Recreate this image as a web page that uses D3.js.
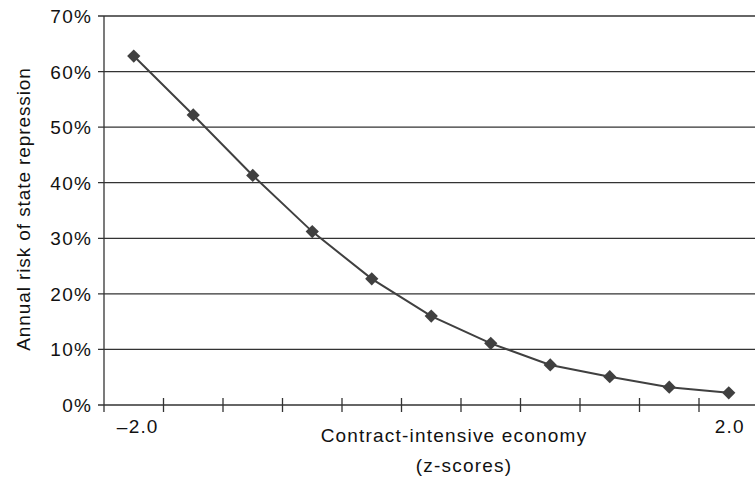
<!DOCTYPE html>
<html>
<head>
<meta charset="utf-8">
<script src="https://cdn.jsdelivr.net/npm/d3@7"></script>
<style>
  body { margin: 0; background: #fff; }
  text { font-family: "Liberation Sans", Arial, sans-serif; fill: #111; font-size: 19px; letter-spacing: 1.2px; }
</style>
</head>
<body>
<div id="chart"></div>
<script>
const w = 755;
const h = 478;

// z-score categories, one point each
const zScores = ["-2.0", "-1.6", "-1.2", "-0.8", "-0.4", "0.0", "0.4", "0.8", "1.2", "1.6", "2.0"];
// annual risk of state repression (share)
const risk = [0.628, 0.522, 0.413, 0.312, 0.227, 0.160, 0.111, 0.072, 0.051, 0.032, 0.022];
// only the end categories carry a label
const xTickLabels = ["\u20132.0", "", "", "", "", "", "", "", "", "", "2.0"];
const yTicks = [0, 0.1, 0.2, 0.3, 0.4, 0.5, 0.6, 0.7];

const plotLeft = 104, plotTop = 16, plotBottom = 405;
const bandW = 59.5;

var svg = d3.select("#chart")
    .append("svg")
    .attr("width", w)
    .attr("height", h);

var x = d3.scaleBand()
    .domain(zScores)
    .range([plotLeft, plotLeft + bandW * zScores.length])
    .padding(0);

var y = d3.scaleLinear()
    .domain([0, 0.7])
    .range([plotBottom, plotTop]);

// horizontal gridlines
svg.selectAll("line.grid")
    .data(yTicks)
    .enter()
    .append("line")
    .attr("class", "grid")
    .attr("x1", plotLeft - 6)
    .attr("x2", w)
    .attr("y1", d => y(d))
    .attr("y2", d => y(d))
    .attr("stroke", "#333")
    .attr("stroke-width", 1.3);

// y tick labels
svg.selectAll("text.ylab")
    .data(yTicks)
    .enter()
    .append("text")
    .attr("class", "ylab")
    .attr("x", plotLeft - 12)
    .attr("y", d => y(d) + 7)
    .attr("text-anchor", "end")
    .text(d => d3.format(".0%")(d));

// y axis line
svg.append("line")
    .attr("x1", plotLeft).attr("x2", plotLeft)
    .attr("y1", plotTop).attr("y2", plotBottom)
    .attr("stroke", "#333")
    .attr("stroke-width", 1.3);

// x ticks at band boundaries (crossing the axis)
var edges = zScores.map(d => x(d)).slice(1);
edges.push(x(zScores[zScores.length - 1]) + x.bandwidth());
svg.selectAll("line.xtick")
    .data(edges)
    .enter()
    .append("line")
    .attr("class", "xtick")
    .attr("x1", d => d).attr("x2", d => d)
    .attr("y1", plotBottom - 7).attr("y2", plotBottom + 7)
    .attr("stroke", "#333")
    .attr("stroke-width", 1.3);

svg.append("line")
    .attr("x1", plotLeft).attr("x2", plotLeft)
    .attr("y1", plotBottom).attr("y2", plotBottom + 7)
    .attr("stroke", "#333")
    .attr("stroke-width", 1.3);

// x tick labels
svg.selectAll("text.xlab")
    .data(zScores)
    .enter()
    .append("text")
    .attr("class", "xlab")
    .attr("x", (d, i) => x(d) + x.bandwidth() / 2 + (i === 0 ? 4 : 1))
    .attr("y", 433)
    .attr("text-anchor", "middle")
    .text((d, i) => xTickLabels[i]);

// line
var line = d3.line()
    .x((d, i) => x(zScores[i]) + x.bandwidth() / 2)
    .y(d => y(d));

svg.append("path")
    .datum(risk)
    .attr("d", line)
    .attr("fill", "none")
    .attr("stroke", "#404040")
    .attr("stroke-width", 2);

// diamond markers
svg.selectAll("path.marker")
    .data(risk)
    .enter()
    .append("path")
    .attr("class", "marker")
    .attr("d", d3.symbol().type(d3.symbolSquare).size(88))
    .attr("transform", (d, i) => "translate(" + (x(zScores[i]) + x.bandwidth() / 2) + "," + y(d) + ") rotate(45)")
    .attr("fill", "#404040");

// axis titles
svg.append("text")
    .attr("x", 454)
    .attr("y", 442)
    .attr("text-anchor", "middle")
    .text("Contract-intensive economy");

svg.append("text")
    .attr("x", 464)
    .attr("y", 472)
    .attr("text-anchor", "middle")
    .text("(z-scores)");

svg.append("text")
    .attr("transform", "translate(30,209) rotate(-90)")
    .attr("text-anchor", "middle")
    .style("letter-spacing", "0.9px")
    .text("Annual risk of state repression");
</script>
</body>
</html>
